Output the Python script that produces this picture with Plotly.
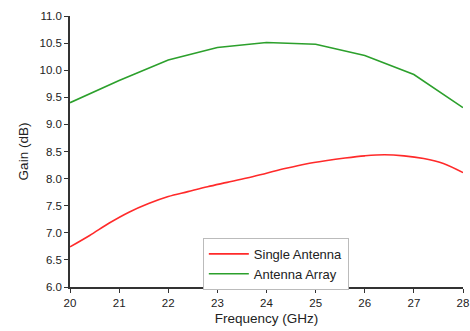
import plotly.graph_objects as go

freq_single = [20.0, 20.4, 20.8, 21.2, 21.6, 22.0, 22.4, 22.8, 23.2, 23.6, 24.0, 24.4,
               24.8, 25.2, 25.6, 26.0, 26.4, 26.8, 27.2, 27.6, 28.0]
gain_single = [6.74, 6.95, 7.18, 7.38, 7.54, 7.67, 7.76, 7.85, 7.93, 8.01, 8.10, 8.19,
               8.27, 8.33, 8.38, 8.42, 8.44, 8.42, 8.37, 8.28, 8.11]

freq_array = [20, 21, 22, 23, 24, 25, 26, 27, 28]
gain_array = [9.40, 9.81, 10.19, 10.42, 10.51, 10.48, 10.27, 9.92, 9.31]

fig = go.Figure()
fig.add_trace(go.Scatter(x=freq_single, y=gain_single, mode="lines", name="Single Antenna",
                         line=dict(color="#ff2a2a", width=1.6, shape="spline")))
fig.add_trace(go.Scatter(x=freq_array, y=gain_array, mode="lines", name="Antenna Array",
                         line=dict(color="#2ca02c", width=1.6)))

axis_common = dict(showline=True, linecolor="#333333", linewidth=1.5, ticks="outside",
                   ticklen=4, tickwidth=1.2, tickcolor="#333333", showgrid=False,
                   zeroline=False, tickfont=dict(size=11.5, color="#222222"),
                   mirror=False, automargin=False)

fig.update_layout(
    width=470, height=331,
    margin=dict(l=70, r=7, t=16, b=44),
    paper_bgcolor="white", plot_bgcolor="white",
    font=dict(family="Liberation Sans, Arial, sans-serif", color="#222222"),
    xaxis=dict(range=[20, 28], dtick=1, title=dict(text="Frequency (GHz)", font=dict(size=13.5), standoff=6),
               **axis_common),
    yaxis=dict(range=[6.0, 11.0], dtick=0.5, tickformat=".1f",
               title=dict(text="Gain (dB)", font=dict(size=13.5), standoff=8), **axis_common),
    legend=dict(x=0.338, y=0.085, xanchor="left", yanchor="middle",
                bordercolor="#bbbbbb", borderwidth=1, bgcolor="white",
                font=dict(size=13, color="#222222"), tracegroupgap=0, itemwidth=40),
    showlegend=True,
)

fig.write_html("out.html", config={"displayModeBar": False},
               post_script="document.body.style.margin='0';document.body.style.padding='0';")
